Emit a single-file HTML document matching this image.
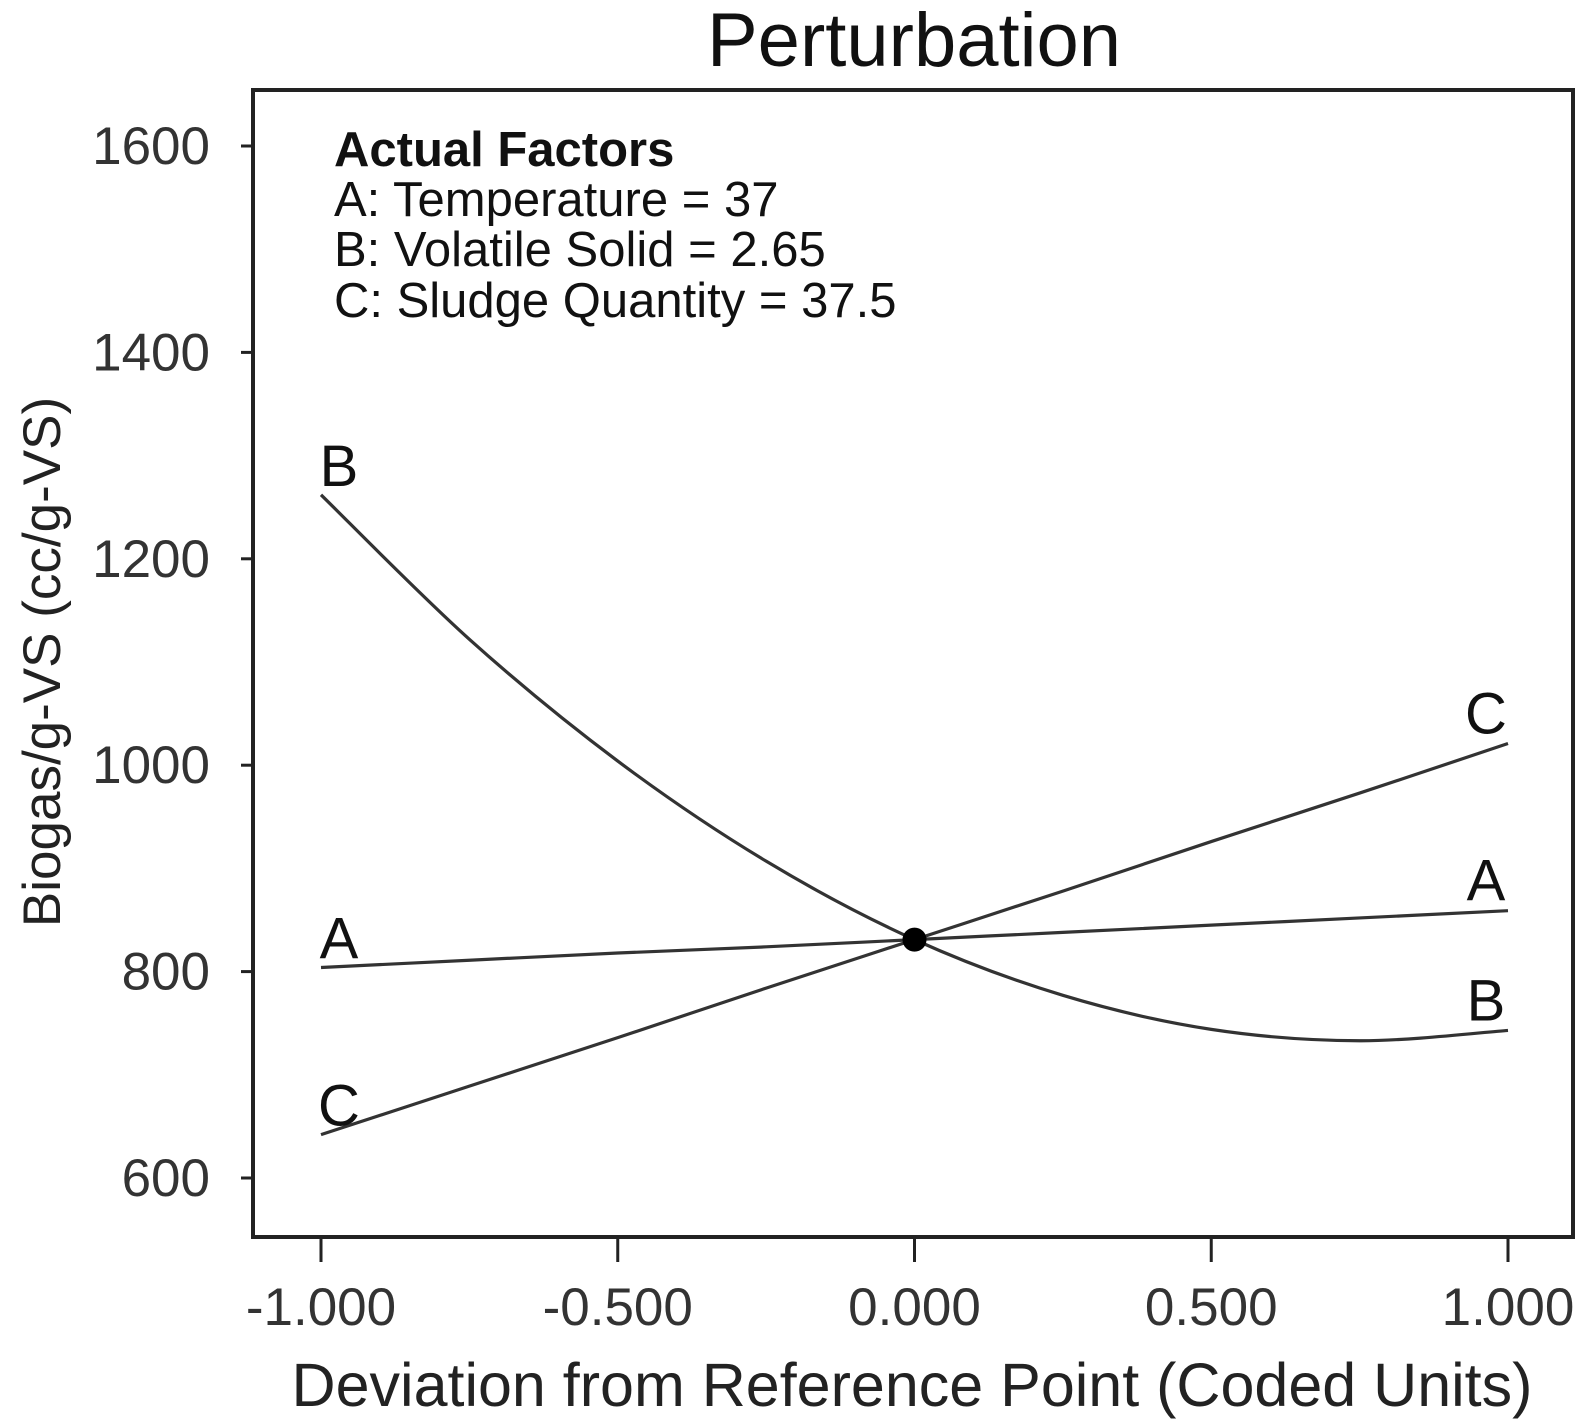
<!DOCTYPE html>
<html><head><meta charset="utf-8"><style>
html,body{margin:0;padding:0;background:#fff;}
svg{display:block;font-family:"Liberation Sans",Arial,sans-serif;}
</style></head><body>
<svg id="chart" width="1590" height="1425" viewBox="0 0 1590 1425">
<text x="914" y="66" font-size="76" text-anchor="middle" fill="#111">Perturbation</text>
<rect x="253" y="90" width="1320" height="1147" fill="none" stroke="#222" stroke-width="4"/>
<g id="yaxis"></g>
<g id="xaxis"></g>
<g id="series"></g>
<g font-size="49" fill="#111">
<text x="334" y="166" font-weight="bold">Actual Factors</text>
<text x="334" y="216">A: Temperature = 37</text>
<text x="334" y="266">B: Volatile Solid = 2.65</text>
<text x="334" y="317">C: Sludge Quantity = 37.5</text>
</g>
<text x="912" y="1406" font-size="61" text-anchor="middle" fill="#222">Deviation from Reference Point (Coded Units)</text>
<text transform="translate(60,662) rotate(-90)" font-size="53" text-anchor="middle" fill="#222">Biogas/g-VS (cc/g-VS)</text>
</svg>
<script>
const xTicks = [-1, -0.5, 0, 0.5, 1];
const xTickLabels = ["-1.000", "-0.500", "0.000", "0.500", "1.000"];
const yTicks = [600, 800, 1000, 1200, 1400, 1600];
const yTickLabels = ["600", "800", "1000", "1200", "1400", "1600"];
const devX = [-1, -0.75, -0.5, -0.25, 0, 0.25, 0.5, 0.75, 1];
const seriesA = [804, 811, 818, 824, 831, 838, 845, 852, 859];
const seriesB = [1262, 1122, 1004, 907, 831, 777, 744, 733, 743];
const seriesC = [642, 689, 736, 784, 831, 878, 926, 973, 1021];
const refPoint = [0, 831];

const NS = "http://www.w3.org/2000/svg";
function sx(v){ return 914.5 + v * 593.5; }
function sy(v){ return 146 + (1600 - v) * 1.032; }
function mk(tag, attrs, parent){ const e=document.createElementNS(NS,tag); for(const k in attrs) e.setAttribute(k,attrs[k]); parent.appendChild(e); return e; }

const yg=document.getElementById('yaxis');
yTicks.forEach((t,i)=>{
  const l=mk('line',{x1:241,x2:253,y1:sy(t),y2:sy(t),stroke:'#222','stroke-width':3},yg);
  
  
  const tx=mk('text',{x:210,y:sy(t)+18,'font-size':53,'text-anchor':'end',fill:'#333'},yg);
  tx.textContent=yTickLabels[i];
  
  
});
const xg=document.getElementById('xaxis');
xTicks.forEach((t,i)=>{
  const l=mk('line',{x1:sx(t),x2:sx(t),y1:1237,y2:1262,stroke:'#222','stroke-width':3},xg);
  
  
  const tx=mk('text',{x:sx(t),y:1325,'font-size':53,'text-anchor':'middle',fill:'#333'},xg);
  tx.textContent=xTickLabels[i];
  
  
});

function pathFor(vals){
  const p=devX.map((x,i)=>[sx(x),sy(vals[i])]);
  let d='M'+p[0][0]+','+p[0][1];
  for(let i=0;i<p.length-1;i++){
    const p0=p[Math.max(0,i-1)],p1=p[i],p2=p[i+1],p3=p[Math.min(p.length-1,i+2)];
    const c1=[p1[0]+(p2[0]-p0[0])/6,p1[1]+(p2[1]-p0[1])/6];
    const c2=[p2[0]-(p3[0]-p1[0])/6,p2[1]-(p3[1]-p1[1])/6];
    d+=' C'+c1+' '+c2+' '+p2;
  }
  return d;
}
const sg=document.getElementById('series');
const defs=[['A',seriesA],['B',seriesB],['C',seriesC]];
defs.forEach(([n,vals])=>{
  const pth=mk('path',{d:pathFor(vals),fill:'none',stroke:'#333','stroke-width':3.2},sg);
  
  
  const first=vals[0], last=vals[vals.length-1];
  const l1=mk('text',{x:sx(-1)+18,y:sy(first)-9,'font-size':58,'text-anchor':'middle',fill:'#111'},sg);
  l1.textContent=n;
  
  
  const l2=mk('text',{x:sx(1)-22,y:sy(last)-10,'font-size':58,'text-anchor':'middle',fill:'#111'},sg);
  l2.textContent=n;
  
  
});
const c=mk('circle',{cx:sx(refPoint[0]),cy:sy(refPoint[1]),r:12,fill:'#000'},sg);


</script>
</body></html>
